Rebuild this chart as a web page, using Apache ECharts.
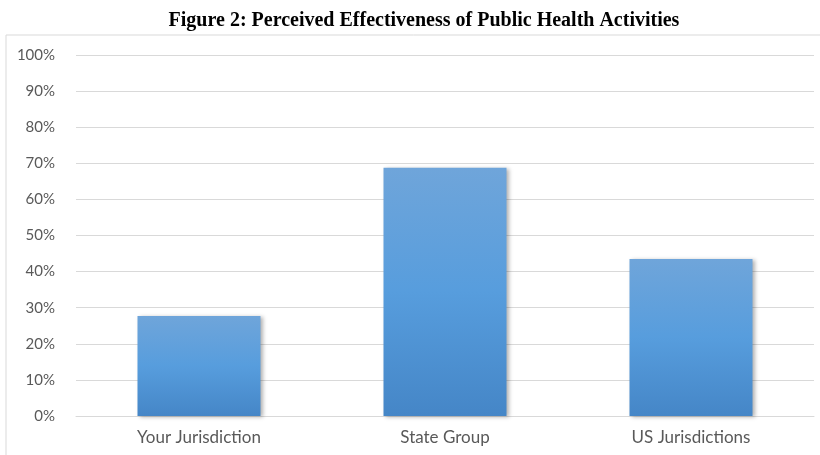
<!DOCTYPE html>
<html>
<head>
<meta charset="utf-8">
<script src="https://cdn.jsdelivr.net/npm/echarts@6/dist/echarts.min.js"></script>
<style>
  html, body { margin: 0; padding: 0; background: #fff; }
  #chart { width: 820px; height: 455px; }
</style>
</head>
<body>
<div id="chart"></div>
<script>
// 数据
var categories = ['Your Jurisdiction', 'State Group', 'US Jurisdictions'];
var effectiveness = [27.7, 68.8, 43.5];
var yTicks = [0, 10, 20, 30, 40, 50, 60, 70, 80, 90, 100];

var chart = echarts.init(document.getElementById('chart'));

var option = {
    backgroundColor: '#fff',
    animation: false,
    title: {
        text: 'Figure 2: Perceived Effectiveness of Public Health Activities',
        left: 419,
        textAlign: 'center',
        top: 6,
        textStyle: {
            fontFamily: 'Liberation Serif',
            fontWeight: 'bold',
            fontSize: 20,
            color: '#000'
        }
    },
    graphic: [{
        type: 'rect',
        shape: { x: 6, y: 35, width: 830, height: 430 },
        style: { fill: 'none', stroke: '#d9d9d9', lineWidth: 1 },
        silent: true
    }],
    grid: {
        left: 76,
        right: 6,
        top: 55,
        bottom: 39
    },
    xAxis: {
        type: 'category',
        data: categories,
        axisTick: { show: false },
        axisLine: { lineStyle: { color: '#d9d9d9', width: 1 } },
        axisLabel: {
            color: '#595959',
            fontFamily: 'Lato',
            fontSize: 17,
            margin: 13
        }
    },
    yAxis: {
        type: 'value',
        min: yTicks[0],
        max: yTicks[yTicks.length - 1],
        interval: 10,
        axisLine: { show: false },
        axisTick: { show: false },
        splitLine: { lineStyle: { color: '#d9d9d9', width: 1 } },
        axisLabel: {
            color: '#595959',
            fontFamily: 'Lato',
            fontSize: 15,
            margin: 21,
            formatter: '{value}%'
        }
    },
    series: [{
        name: 'Perceived Effectiveness',
        type: 'bar',
        data: effectiveness,
        barWidth: '50%',
        itemStyle: {
            color: new echarts.graphic.LinearGradient(0, 0, 0, 1, [
                { offset: 0, color: '#6fa5da' },
                { offset: 0.5, color: '#579ddd' },
                { offset: 1, color: '#4586c7' }
            ]),
            shadowBlur: 4,
            shadowColor: 'rgba(0,0,0,0.3)',
            shadowOffsetX: 2,
            shadowOffsetY: 1
        }
    }]
};
chart.setOption(option);
</script>
</body>
</html>
